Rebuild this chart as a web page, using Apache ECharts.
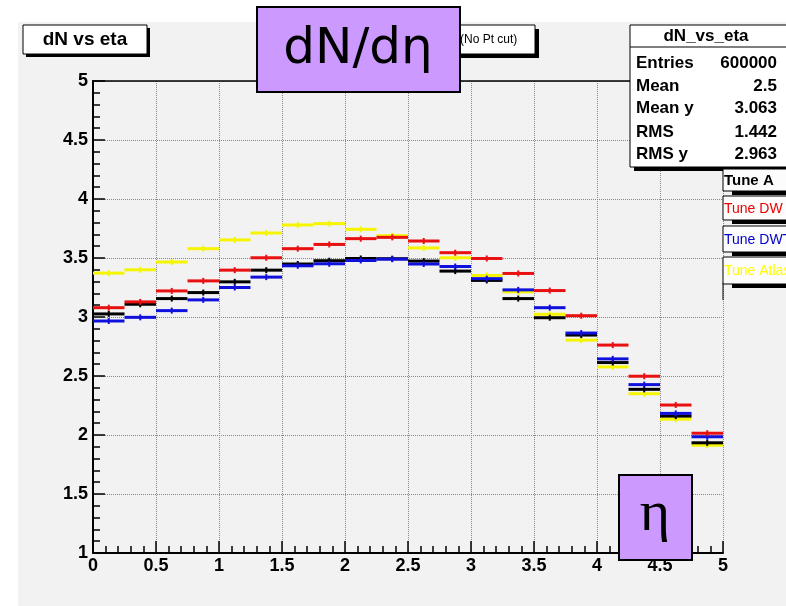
<!DOCTYPE html>
<html>
<head>
<meta charset="utf-8">
<script src="https://cdn.jsdelivr.net/npm/echarts@6/dist/echarts.min.js"></script>
<style>
  html, body { margin: 0; padding: 0; background: #fff; }
  #main { width: 786px; height: 606px; }
</style>
</head>
<body>
<div id="main"></div>
<script>
// bin edges in eta, 20 bins of 0.25
var binEdges = [0, 0.25, 0.5, 0.75, 1, 1.25, 1.5, 1.75, 2, 2.25, 2.5,
                2.75, 3, 3.25, 3.5, 3.75, 4, 4.25, 4.5, 4.75, 5];

// dN/deta per bin
var tuneA     = [3.026, 3.108, 3.156, 3.207, 3.298, 3.397, 3.449, 3.477, 3.496, 3.494,
                 3.474, 3.389, 3.310, 3.156, 2.994, 2.847, 2.614, 2.387, 2.160, 1.934];
var tuneDW    = [3.079, 3.128, 3.221, 3.306, 3.397, 3.502, 3.579, 3.615, 3.664, 3.675,
                 3.644, 3.545, 3.496, 3.369, 3.224, 3.011, 2.762, 2.498, 2.254, 2.015];
var tuneDWT   = [2.966, 2.997, 3.054, 3.145, 3.250, 3.338, 3.434, 3.451, 3.479, 3.490,
                 3.449, 3.428, 3.325, 3.230, 3.079, 2.864, 2.645, 2.427, 2.183, 1.985];
var tuneAtlas = [3.372, 3.400, 3.466, 3.579, 3.653, 3.712, 3.780, 3.791, 3.743, 3.689,
                 3.585, 3.502, 3.352, 3.213, 3.023, 2.804, 2.577, 2.350, 2.134, 1.913];

var xTicks = ['0', '0.5', '1', '1.5', '2', '2.5', '3', '3.5', '4', '4.5', '5'];
var yTicks = ['1', '1.5', '2', '2.5', '3', '3.5', '4', '4.5', '5'];

var statNames  = ['Entries', 'Mean', 'Mean y', 'RMS', 'RMS y'];
var statValues = ['600000', '2.5', '3.063', '1.442', '2.963'];

var legendNames  = ['Tune A', 'Tune DW', 'Tune DWT', 'Tune Atlas'];
var legendColors = ['#000000', '#ee0000', '#0000cc', '#ffff00'];

var chart = echarts.init(document.getElementById('main'));

function histData(vals) {
    var out = [];
    for (var i = 0; i < vals.length; i++) {
        out.push([binEdges[i], binEdges[i + 1], vals[i]]);
    }
    return out;
}

function stepRenderer(color) {
    return function (params, api) {
        var lo = api.value(0), hi = api.value(1), v = api.value(2);
        var p0 = api.coord([lo, v]);
        var p1 = api.coord([hi, v]);
        var pm = api.coord([(lo + hi) / 2, v]);
        return {
            type: 'group',
            children: [
                {type: 'line', shape: {x1: p0[0], y1: p0[1], x2: p1[0], y2: p1[1]},
                 style: {stroke: color, lineWidth: 3}},
                {type: 'line', shape: {x1: pm[0], y1: pm[1] - 3, x2: pm[0], y2: pm[1] + 3},
                 style: {stroke: color, lineWidth: 2}}
            ]
        };
    };
}

function histSeries(name, vals, color) {
    return {
        name: name,
        type: 'custom',
        xAxisIndex: 0,
        yAxisIndex: 0,
        renderItem: stepRenderer(color),
        data: histData(vals),
        z: 3
    };
}

var labelFont = {color: '#000', fontFamily: 'Liberation Sans', fontWeight: 'bold', fontSize: 18};

// overlay boxes (ROOT panes)
var els = [];
els.push({type: 'rect', z: -10, shape: {x: 18, y: 22, width: 780, height: 590},
          style: {fill: '#f2f2f2'}});

// title pane
els.push({type: 'rect', z: 50, shape: {x: 26, y: 28, width: 124, height: 29}, style: {fill: '#000'}});
els.push({type: 'rect', z: 51, shape: {x: 23, y: 25, width: 124, height: 29},
          style: {fill: '#fff', stroke: '#000', lineWidth: 1}});
els.push({type: 'text', z: 52, x: 85, y: 40,
          style: {text: 'dN vs eta', fill: '#000', font: 'bold 19px "Liberation Sans"',
                  align: 'center', verticalAlign: 'middle'}});

// "(No Pt cut)" pane, mostly hidden
els.push({type: 'rect', z: 50, shape: {x: 334, y: 29, width: 205, height: 29}, style: {fill: '#000'}});
els.push({type: 'rect', z: 51, shape: {x: 330, y: 25, width: 205, height: 29},
          style: {fill: '#fff', stroke: '#000', lineWidth: 1}});
els.push({type: 'text', z: 52, x: 460, y: 40,
          style: {text: '(No Pt cut)', fill: '#000', font: '12px "Liberation Sans"',
                  align: 'left', verticalAlign: 'middle'}});

// stats pane
els.push({type: 'rect', z: 50, shape: {x: 634, y: 29, width: 170, height: 142}, style: {fill: '#000'}});
els.push({type: 'rect', z: 51, shape: {x: 630, y: 25, width: 170, height: 142},
          style: {fill: '#fff', stroke: '#000', lineWidth: 1}});
els.push({type: 'line', z: 52, shape: {x1: 630, y1: 47, x2: 800, y2: 47},
          style: {stroke: '#000', lineWidth: 1}});
els.push({type: 'text', z: 52, x: 706, y: 36,
          style: {text: 'dN_vs_eta', fill: '#000', font: 'bold 17px "Liberation Sans"',
                  align: 'center', verticalAlign: 'middle'}});
var statY = [63, 86, 108, 132, 154];
for (var s = 0; s < statNames.length; s++) {
    els.push({type: 'text', z: 52, x: 636, y: statY[s],
              style: {text: statNames[s], fill: '#000', font: 'bold 17px "Liberation Sans"',
                      align: 'left', verticalAlign: 'middle'}});
    els.push({type: 'text', z: 52, x: 777, y: statY[s],
              style: {text: statValues[s], fill: '#000', font: 'bold 17px "Liberation Sans"',
                      align: 'right', verticalAlign: 'middle'}});
}

// legend panes
var legTop = [169, 196, 226, 257];
var legH = [22, 24, 26, 27];
for (var l = 0; l < legendNames.length; l++) {
    els.push({type: 'rect', z: 50, shape: {x: 732, y: legTop[l] + legH[l], width: 70, height: 4},
              style: {fill: '#000'}});
    els.push({type: 'rect', z: 51, shape: {x: 723, y: legTop[l], width: 70, height: legH[l]},
              style: {fill: '#fcfcfc', stroke: '#000', lineWidth: 1}});
    els.push({type: 'text', z: 52, x: 724, y: legTop[l] + legH[l] / 2 + 1,
              style: {text: legendNames[l], fill: legendColors[l],
                      font: (l === 0 ? 'bold 15px' : '14px') + ' "Liberation Sans"',
                      align: 'left', verticalAlign: 'middle'}});
}
els.push({type: 'line', z: 50, shape: {x1: 723, y1: 283, x2: 723, y2: 300},
          style: {stroke: '#000', lineWidth: 1}});

// purple labels
els.push({type: 'rect', z: 100, shape: {x: 257, y: 7, width: 203, height: 85},
          style: {fill: '#cc99ff', stroke: '#000', lineWidth: 2}});
els.push({type: 'text', z: 101, x: 358, y: 50,
          style: {text: 'dN/dη', fill: '#000', font: '50px "DejaVu Sans"',
                  align: 'center', verticalAlign: 'middle'}});
els.push({type: 'rect', z: 100, shape: {x: 619, y: 475, width: 73, height: 85},
          style: {fill: '#cc99ff', stroke: '#000', lineWidth: 2}});
els.push({type: 'text', z: 101, x: 655, y: 515,
          style: {text: 'η', fill: '#000', font: '58px "Liberation Serif"',
                  align: 'center', verticalAlign: 'middle'}});

var option = {
    backgroundColor: '#ffffff',
    animation: false,
    grid: {left: 93, top: 81, right: 63, bottom: 53, containLabel: false},
    xAxis: [
        {
            type: 'value', min: 0, max: 5, interval: 0.5,
            axisLine: {show: true, lineStyle: {color: '#000', width: 2}},
            axisTick: {show: true, inside: true, length: 12, lineStyle: {color: '#000', width: 1.5}},
            minorTick: {show: true, splitNumber: 5, length: 7, lineStyle: {color: '#000', width: 1.5}},
            splitLine: {show: true, lineStyle: {color: '#888', type: 'dotted', width: 1}},
            axisLabel: Object.assign({margin: 4, formatter: function (v) {
                var i = Math.round(v / 0.5);
                return xTicks[i];
            }}, labelFont)
        },
        {
            type: 'value', min: 0, max: 5, position: 'top',
            axisLine: {show: true, lineStyle: {color: '#000', width: 1.5}},
            axisTick: {show: false}, axisLabel: {show: false}, splitLine: {show: false}
        }
    ],
    yAxis: [
        {
            type: 'value', min: 1, max: 5, interval: 0.5,
            axisLine: {show: true, lineStyle: {color: '#000', width: 2}},
            axisTick: {show: true, inside: true, length: 12, lineStyle: {color: '#000', width: 1.5}},
            minorTick: {show: true, splitNumber: 5, length: 7, lineStyle: {color: '#000', width: 1.5}},
            splitLine: {show: true, lineStyle: {color: '#888', type: 'dotted', width: 1}},
            axisLabel: Object.assign({margin: 5, formatter: function (v) {
                var i = Math.round((v - 1) / 0.5);
                return yTicks[i];
            }}, labelFont)
        },
        {
            type: 'value', min: 1, max: 5, position: 'right',
            axisLine: {show: true, lineStyle: {color: '#000', width: 1.5}},
            axisTick: {show: false}, axisLabel: {show: false}, splitLine: {show: false}
        }
    ],
    series: [
        histSeries('Tune Atlas', tuneAtlas, '#f5f500'),
        histSeries('Tune A', tuneA, '#000000'),
        histSeries('Tune DWT', tuneDWT, '#1010dd'),
        histSeries('Tune DW', tuneDW, '#e81010')
    ],
    graphic: {elements: els}
};

chart.setOption(option);
</script>
</body>
</html>
